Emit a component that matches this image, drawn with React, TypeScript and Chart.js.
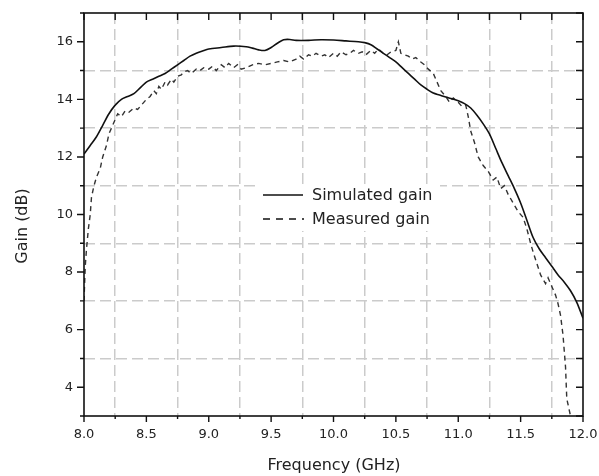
import React, { useEffect, useRef } from "react";
import { Chart, registerables } from "chart.js";

Chart.register(...registerables);

const simFreq = [8.0, 8.05, 8.1, 8.15, 8.2, 8.25, 8.3, 8.35, 8.4, 8.45, 8.5, 8.55, 8.6, 8.65, 8.7, 8.75, 8.8, 8.85, 8.9, 8.95, 9.0, 9.1, 9.2, 9.3, 9.35, 9.4, 9.45, 9.5, 9.55, 9.6, 9.65, 9.7, 9.8, 9.9, 10.0, 10.1, 10.2, 10.25, 10.3, 10.35, 10.4, 10.45, 10.5, 10.55, 10.6, 10.65, 10.7, 10.75, 10.8, 10.85, 10.9, 10.95, 11.0, 11.05, 11.1, 11.15, 11.2, 11.25, 11.3, 11.35, 11.4, 11.45, 11.5, 11.55, 11.6, 11.65, 11.7, 11.75, 11.8, 11.85, 11.9, 11.95, 12.0];
const simGain = [12.1, 12.4, 12.7, 13.1, 13.5, 13.8, 14.0, 14.1, 14.2, 14.4, 14.6, 14.7, 14.8, 14.9, 15.05, 15.2, 15.35, 15.5, 15.6, 15.68, 15.75, 15.8, 15.85, 15.83, 15.78, 15.72, 15.7, 15.8, 15.95, 16.07, 16.08, 16.05, 16.05, 16.07, 16.06, 16.03, 16.0, 15.97, 15.9, 15.75, 15.6, 15.45, 15.3, 15.1, 14.9, 14.7, 14.5, 14.35, 14.22, 14.15, 14.08, 14.02, 13.95, 13.85, 13.7, 13.45, 13.15, 12.8, 12.3, 11.8, 11.35, 10.9, 10.4, 9.8, 9.2, 8.8, 8.5, 8.2, 7.9, 7.65, 7.35, 6.95, 6.4];

const measFreq = [8.0, 8.01, 8.02, 8.035, 8.05, 8.06, 8.08, 8.1, 8.13, 8.15, 8.18, 8.2, 8.22, 8.25, 8.27, 8.3, 8.33, 8.36, 8.4, 8.43, 8.46, 8.5, 8.53, 8.56, 8.58, 8.6, 8.62, 8.65, 8.67, 8.7, 8.72, 8.75, 8.78, 8.8, 8.83, 8.86, 8.9, 8.93, 8.96, 9.0, 9.03, 9.06, 9.1, 9.13, 9.16, 9.2, 9.23, 9.26, 9.3, 9.35, 9.4, 9.45, 9.5, 9.55, 9.6, 9.65, 9.7, 9.73, 9.76, 9.8, 9.83, 9.86, 9.9, 9.93, 9.96, 10.0, 10.03, 10.06, 10.1, 10.13, 10.16, 10.2, 10.23, 10.26, 10.3, 10.33, 10.36, 10.4, 10.43, 10.46, 10.5, 10.52, 10.54, 10.57, 10.6, 10.63, 10.66, 10.7, 10.73, 10.76, 10.8, 10.83, 10.86, 10.9, 10.93, 10.96, 11.0, 11.03, 11.06, 11.08, 11.1, 11.13, 11.16, 11.2, 11.24, 11.28, 11.31, 11.34, 11.37, 11.4, 11.44, 11.48, 11.52, 11.55, 11.58, 11.6, 11.63, 11.66, 11.7, 11.72, 11.75, 11.78, 11.8, 11.82, 11.84, 11.86, 11.87, 11.9];
const measGain = [7.0, 8.2, 8.8, 9.5, 10.0, 10.6, 11.0, 11.3, 11.6, 12.0, 12.4, 12.8, 13.0, 13.3, 13.5, 13.4, 13.6, 13.55, 13.7, 13.65, 13.8, 14.0, 14.1, 14.3, 14.2, 14.45, 14.35, 14.6, 14.5, 14.7, 14.6, 14.8, 14.85, 14.95, 15.0, 14.9, 15.05, 15.0, 15.1, 15.05, 15.15, 15.0, 15.2, 15.1, 15.25, 15.1, 15.2, 15.05, 15.1, 15.2, 15.25, 15.2, 15.25, 15.3, 15.35, 15.3, 15.4, 15.5, 15.4, 15.55, 15.5, 15.6, 15.5, 15.55, 15.45, 15.6, 15.5, 15.65, 15.55, 15.6, 15.7, 15.6, 15.65, 15.55, 15.7, 15.6, 15.75, 15.6, 15.55, 15.65, 15.7, 16.0, 15.6, 15.55, 15.5, 15.4, 15.45, 15.3, 15.2, 15.05, 14.9, 14.6, 14.3, 14.1, 13.9, 14.05, 13.9, 13.75, 13.8, 13.4, 12.9, 12.5, 12.0, 11.7, 11.5, 11.2, 11.3, 10.9, 11.0, 10.7, 10.4, 10.1, 9.9, 9.5, 9.0, 8.7, 8.3, 7.9, 7.6, 7.8, 7.5, 7.2, 6.9, 6.5, 5.8, 4.7, 3.6, 3.0];

const xMin = 8, xMax = 12, yMin = 3, yMax = 17;
const xLabels = [8.0, 8.5, 9.0, 9.5, 10.0, 10.5, 11.0, 11.5, 12.0];
const yLabels = [4, 6, 8, 10, 12, 14, 16];
const legendLabels = ["Simulated gain", "Measured gain"];
const xTitle = "Frequency (GHz)";
const yTitle = "Gain (dB)";

const FONT = "'DejaVu Sans', sans-serif";
const TXT = "#222";

const isMajorX = (v: number) => Math.abs(v * 2 - Math.round(v * 2)) < 1e-6;
const isMajorY = (v: number) => Math.abs(v / 2 - Math.round(v / 2)) < 1e-6;

const framePlugin = {
  id: "frame",
  beforeDatasetsDraw(chart: any) {
    const ctx = chart.ctx;
    ctx.save();
    ctx.fillStyle = "#fff";
    ctx.fillRect(258, 184, 182, 47);
    ctx.restore();
  },
  afterDraw(chart: any) {
    const ctx = chart.ctx;
    const { left, right, top, bottom } = chart.chartArea;
    const xs = chart.scales.x;
    const ys = chart.scales.y;
    ctx.save();
    ctx.strokeStyle = "#111";
    ctx.lineWidth = 1.6;
    ctx.strokeRect(left, top, right - left, bottom - top);
    ctx.lineWidth = 1.4;
    ctx.beginPath();
    for (let i = 0; i <= 16; i++) {
      const v = xMin + i * 0.25;
      const px = xs.getPixelForValue(v);
      const len = isMajorX(v) ? 6 : 3;
      ctx.moveTo(px, bottom);
      ctx.lineTo(px, bottom + len);
      ctx.moveTo(px, top);
      ctx.lineTo(px, top + 7);
    }
    for (let v = yMin; v <= yMax; v++) {
      const py = ys.getPixelForValue(v);
      const len = isMajorY(v) ? 7 : 4;
      ctx.moveTo(left, py);
      ctx.lineTo(left - len, py);
      ctx.moveTo(right, py);
      ctx.lineTo(right - 7, py);
    }
    ctx.stroke();

    // axis titles
    ctx.fillStyle = TXT;
    ctx.font = `16px ${FONT}`;
    ctx.textAlign = "center";
    ctx.textBaseline = "alphabetic";
    ctx.fillText(xTitle, 334, 470);
    ctx.save();
    ctx.translate(27, 226);
    ctx.rotate(-Math.PI / 2);
    ctx.fillText(yTitle, 0, 0);
    ctx.restore();

    // legend
    ctx.strokeStyle = "#111";
    ctx.lineWidth = 1.5;
    ctx.setLineDash([]);
    ctx.beginPath();
    ctx.moveTo(263, 195);
    ctx.lineTo(303, 195);
    ctx.stroke();
    ctx.setLineDash([7, 6]);
    ctx.beginPath();
    ctx.moveTo(263, 219);
    ctx.lineTo(304, 219);
    ctx.stroke();
    ctx.setLineDash([]);
    ctx.textAlign = "left";
    ctx.textBaseline = "middle";
    ctx.fillText(legendLabels[0], 312, 196);
    ctx.fillText(legendLabels[1], 312, 220);
    ctx.restore();
  },
};

export default function App() {
  const ref = useRef<HTMLCanvasElement | null>(null);
  useEffect(() => {
    if (!ref.current) return;
    const chart = new Chart(ref.current, {
      type: "scatter",
      data: {
        datasets: [
          {
            label: legendLabels[0],
            data: simFreq.map((f, i) => ({ x: f, y: simGain[i] })),
            showLine: true,
            borderColor: "#111",
            borderWidth: 1.6,
            pointRadius: 0,
            tension: 0.3,
          },
          {
            label: legendLabels[1],
            data: measFreq.map((f, i) => ({ x: f, y: measGain[i] })),
            showLine: true,
            borderColor: "#333",
            borderWidth: 1.4,
            borderDash: [5, 4],
            pointRadius: 0,
            tension: 0,
          },
        ],
      },
      options: {
        responsive: false,
        animation: false,
        devicePixelRatio: 1,
        layout: { padding: { top: 13, right: 16, left: 0, bottom: 0 } },
        plugins: { legend: { display: false }, tooltip: { enabled: false } },
        scales: {
          x: {
            type: "linear",
            min: xMin,
            max: xMax,
            afterFit: (s: any) => {
              s.height = 60;
              s.paddingLeft = 0;
              s.paddingRight = 0;
            },
            afterBuildTicks: (s: any) => {
              const t = [];
              for (let i = 0; i <= 16; i++) t.push({ value: xMin + i * 0.25 });
              s.ticks = t;
            },
            ticks: {
              autoSkip: false,
              maxRotation: 0,
              padding: 11,
              color: TXT,
              font: { family: FONT, size: 13 },
              callback: (v: any) => {
                const n = Number(v);
                return xLabels.some((l) => Math.abs(l - n) < 1e-6) ? n.toFixed(1) : "";
              },
            },
            grid: {
              drawTicks: false,
              lineWidth: 1.5,
              color: (c: any) => (c.tick && !isMajorX(c.tick.value) ? "#cbcbcb" : "rgba(0,0,0,0)"),
            },
            border: { display: false, dash: [11, 5] },
          },
          y: {
            type: "linear",
            min: yMin,
            max: yMax,
            afterFit: (s: any) => {
              s.width = 84;
              s.paddingTop = 0;
              s.paddingBottom = 0;
            },
            afterBuildTicks: (s: any) => {
              const t = [];
              for (let v = yMin; v <= yMax; v++) t.push({ value: v });
              s.ticks = t;
            },
            ticks: {
              autoSkip: false,
              padding: 11,
              color: TXT,
              font: { family: FONT, size: 13 },
              callback: (v: any) => (yLabels.includes(Number(v)) ? String(v) : ""),
            },
            grid: {
              drawTicks: false,
              lineWidth: 1.5,
              color: (c: any) =>
                c.tick && !isMajorY(c.tick.value) && c.tick.value !== yMin && c.tick.value !== yMax
                  ? "#cbcbcb"
                  : "rgba(0,0,0,0)",
            },
            border: { display: false, dash: [11, 5] },
          },
        },
      },
      plugins: [framePlugin],
    });
    return () => chart.destroy();
  }, []);
  return (
    <div style={{ position: "absolute", left: 0, top: 0, width: 599, height: 476, background: "#fff" }}>
      <canvas ref={ref} width={599} height={476} />
    </div>
  );
}
